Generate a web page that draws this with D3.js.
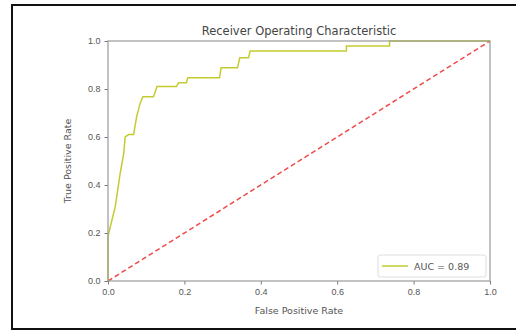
<!DOCTYPE html>
<html>
<head>
<meta charset="utf-8">
<script src="https://cdn.jsdelivr.net/npm/d3@7"></script>
<style>
  body { margin: 0; background: #fff; }
  svg { display: block; font-family: "DejaVu Sans", sans-serif; }
</style>
</head>
<body>
<svg id="roc" width="516" height="331"></svg>
<script>
// ROC curve points
const fpr = [0, 0, 0.006, 0.019, 0.032, 0.041, 0.045, 0.054, 0.067, 0.075, 0.084, 0.091, 0.119, 0.124, 0.128, 0.179, 0.185, 0.205, 0.209, 0.292, 0.296, 0.339, 0.345, 0.368, 0.372, 0.624, 0.624, 0.737, 0.737, 1.0];
const tpr = [0, 0.185, 0.226, 0.31, 0.45, 0.53, 0.60, 0.61, 0.61, 0.685, 0.74, 0.768, 0.768, 0.79, 0.81, 0.81, 0.826, 0.826, 0.847, 0.847, 0.889, 0.889, 0.93, 0.93, 0.958, 0.958, 0.979, 0.979, 1.0, 1.0];
const diagonal = [0, 1];
const ticks = [0, 0.2, 0.4, 0.6, 0.8, 1.0];
const aucLabel = 'AUC = 0.89';

const svg = d3.select('#roc');
const margin = {top: 41, right: 26, bottom: 50, left: 108};
const width = 516 - margin.left - margin.right,
  height = 331 - margin.top - margin.bottom;

// outer frame of the screenshot
svg.append('rect')
  .attr('x', 12).attr('y', 5)
  .attr('width', 520).attr('height', 324)
  .attr('fill', 'none').attr('stroke', '#111').attr('stroke-width', 2);

const x = d3.scaleLinear().domain([0, 1]).range([0, width]);
const y = d3.scaleLinear().domain([0, 1]).range([height, 0]);

const g = svg.append('g')
  .attr('transform', 'translate(' + margin.left + ',' + margin.top + ')');

// diagonal chance line
g.append('path')
  .datum(diagonal)
  .attr('fill', 'none')
  .attr('stroke', '#f04a4a')
  .attr('stroke-width', 1.5)
  .attr('stroke-dasharray', '5,3')
  .attr('d', d3.line().x(d => x(d)).y(d => y(d)));

// roc curve
const pts = fpr.map((f, i) => [f, tpr[i]]);
g.append('path')
  .datum(pts)
  .attr('fill', 'none')
  .attr('stroke', '#c3cc2e')
  .attr('stroke-width', 1.5)
  .attr('d', d3.line().x(d => x(d[0])).y(d => y(d[1])));

// axes
const xAxis = g.append('g')
  .attr('transform', 'translate(0,' + height + ')')
  .call(d3.axisBottom(x).tickValues(ticks).tickFormat(d3.format('.1f')).tickSize(3.5).tickPadding(4));
const yAxis = g.append('g')
  .call(d3.axisLeft(y).tickValues(ticks).tickFormat(d3.format('.1f')).tickSize(3.5).tickPadding(4));
[xAxis, yAxis].forEach(a => {
  a.select('.domain').remove();
  a.selectAll('line').attr('stroke', '#777');
  a.selectAll('text').attr('fill', '#555').style('font-size', '9px');
});

// spines
g.append('rect')
  .attr('width', width).attr('height', height)
  .attr('fill', 'none').attr('stroke', '#999').attr('stroke-width', 1.2);

// title and labels
svg.append('text')
  .attr('x', margin.left + width / 2).attr('y', 35)
  .attr('text-anchor', 'middle')
  .attr('fill', '#444')
  .style('font-size', '11.5px')
  .text('Receiver Operating Characteristic');

svg.append('text')
  .attr('x', margin.left + width / 2).attr('y', 314)
  .attr('text-anchor', 'middle')
  .attr('fill', '#555')
  .style('font-size', '9.5px')
  .text('False Positive Rate');

svg.append('text')
  .attr('transform', 'translate(71,' + (margin.top + height / 2) + ') rotate(-90)')
  .attr('text-anchor', 'middle')
  .attr('fill', '#555')
  .style('font-size', '9.5px')
  .text('True Positive Rate');

// legend
const lg = g.append('g').attr('transform', 'translate(' + (width - 112) + ',' + (height - 26) + ')');
lg.append('rect')
  .attr('width', 108).attr('height', 22).attr('rx', 2)
  .attr('fill', '#fff').attr('stroke', '#ddd');
lg.append('line')
  .attr('x1', 4).attr('x2', 30).attr('y1', 11).attr('y2', 11)
  .attr('stroke', '#c3cc2e').attr('stroke-width', 1.5);
lg.append('text')
  .attr('x', 36).attr('y', 14.5)
  .attr('fill', '#555')
  .style('font-size', '9.5px')
  .text(aucLabel);
</script>
</body>
</html>
